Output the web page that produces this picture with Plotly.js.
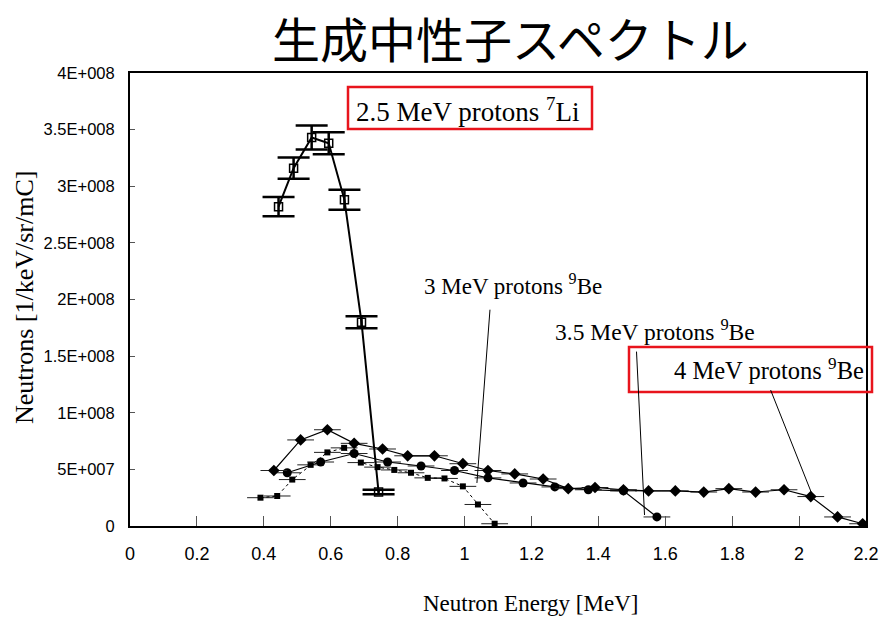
<!DOCTYPE html>
<html>
<head>
<meta charset="utf-8">
<script src="https://cdn.plot.ly/plotly-3.0.1.min.js"></script>
<style>html,body{margin:0;padding:0;background:#fff;}#chart{width:879px;height:618px;}</style>
</head>
<body>
<div id="chart"></div>
<script>
// 2.5 MeV protons on 7Li
const liEnergy = [0.444, 0.489, 0.543, 0.594, 0.641, 0.692, 0.743];
const liNeutrons = [2.82e8, 3.16e8, 3.43e8, 3.38e8, 2.88e8, 1.80e8, 0.30e8];
const liError = [8.4e6, 9.3e6, 1.06e7, 9.7e6, 8.8e6, 5.3e6, 2.0e6];

// 3 MeV protons on 9Be
const be3Energy = [0.39, 0.44, 0.485, 0.54, 0.59, 0.64, 0.69, 0.74, 0.79, 0.84, 0.89, 0.94, 0.995, 1.04, 1.09];
const be3Neutrons = [2.5e7, 2.65e7, 4.1e7, 5.4e7, 6.5e7, 6.9e7, 5.6e7, 5.2e7, 4.95e7, 4.7e7, 4.25e7, 4.2e7, 3.5e7, 1.9e7, 0.2e7];

// 3.5 MeV protons on 9Be
const be35Energy = [0.47, 0.57, 0.67, 0.77, 0.87, 0.97, 1.07, 1.175, 1.27, 1.37, 1.475, 1.575];
const be35Neutrons = [4.7e7, 5.65e7, 6.4e7, 5.65e7, 5.3e7, 4.9e7, 4.25e7, 3.8e7, 3.45e7, 3.2e7, 3.1e7, 0.8e7];

// 4 MeV protons on 9Be
const be4Energy = [0.43, 0.51, 0.59, 0.67, 0.755, 0.83, 0.91, 0.995, 1.07, 1.15, 1.235, 1.31, 1.39, 1.475, 1.55, 1.63, 1.715, 1.79, 1.87, 1.955, 2.035, 2.115, 2.19];
const be4Neutrons = [4.9e7, 7.6e7, 8.5e7, 7.3e7, 6.8e7, 6.2e7, 6.2e7, 5.5e7, 4.9e7, 4.6e7, 4.15e7, 3.3e7, 3.4e7, 3.2e7, 3.1e7, 3.1e7, 3.0e7, 3.3e7, 3.0e7, 3.2e7, 2.6e7, 0.8e7, 0.2e7];

const xTickVals = [0, 0.2, 0.4, 0.6, 0.8, 1, 1.2, 1.4, 1.6, 1.8, 2, 2.2];
const xTickText = ['0', '0.2', '0.4', '0.6', '0.8', '1', '1.2', '1.4', '1.6', '1.8', '2', '2.2'];
const yTickVals = [0, 5e7, 1e8, 1.5e8, 2e8, 2.5e8, 3e8, 3.5e8, 4e8];
const yTickText = ['0', '5E+007', '1E+008', '1.5E+008', '2E+008', '2.5E+008', '3E+008', '3.5E+008', '4E+008'];

const beErrX = {type: 'constant', value: 0.04, thickness: 1, width: 0, color: '#222'};

const traces = [
  {x: be3Energy, y: be3Neutrons, mode: 'lines+markers', type: 'scatter',
   line: {color: '#000', width: 1, dash: 'dot'},
   marker: {symbol: 'square', size: 6, color: '#000'}, error_x: beErrX},
  {x: be35Energy, y: be35Neutrons, mode: 'lines+markers', type: 'scatter',
   line: {color: '#000', width: 1.2},
   marker: {symbol: 'circle', size: 9, color: '#000'}, error_x: beErrX},
  {x: be4Energy, y: be4Neutrons, mode: 'lines+markers', type: 'scatter',
   line: {color: '#000', width: 1.2},
   marker: {symbol: 'diamond', size: 9, color: '#000'}, error_x: beErrX},
  {x: liEnergy, y: liNeutrons, mode: 'lines+markers', type: 'scatter',
   line: {color: '#000', width: 2},
   marker: {symbol: 'square-open', size: 8, color: '#000', line: {width: 1.5}},
   error_y: {type: 'data', array: liError, visible: true, thickness: 2.5, width: 16, color: '#000'}}
];

const serif = 'Liberation Serif';
const sans = 'Liberation Sans Narrow, Liberation Sans';
const layout = {
  width: 879, height: 618,
  margin: {l: 130, r: 13, t: 73, b: 92},
  paper_bgcolor: '#fff', plot_bgcolor: '#fff',
  showlegend: false,
  xaxis: {range: [0, 2.2], tickvals: xTickVals, ticktext: xTickText,
    showgrid: false, zeroline: false, showline: true, mirror: true, linecolor: '#000', linewidth: 2,
    ticks: 'inside', ticklen: 10, tickwidth: 1, tickcolor: '#555', ticklabelstandoff: 10,
    ticklabeloverflow: 'allow',
    tickfont: {family: sans, size: 18, color: '#000'}},
  yaxis: {range: [0, 4e8], tickvals: yTickVals, ticktext: yTickText,
    showgrid: false, zeroline: false, showline: true, mirror: true, linecolor: '#000', linewidth: 2,
    ticks: 'inside', ticklen: 5, tickwidth: 1, tickcolor: '#555', ticklabelstandoff: 10,
    tickfont: {family: sans, size: 16.5, color: '#000'}},
  shapes: [
    {type: 'rect', xref: 'paper', yref: 'paper', x0: (348-130)/736, x1: (592-130)/736,
     y0: (526-129)/453, y1: (526-87)/453, line: {color: '#e8141c', width: 2.5}},
    {type: 'rect', xref: 'paper', yref: 'paper', x0: (629-130)/736, x1: (872-130)/736,
     y0: (526-392)/453, y1: (526-347)/453, line: {color: '#e8141c', width: 2.5}},
    {type: 'line', xref: 'x', yref: 'y', x0: 1.076, y0: 1.91e8, x1: 1.037, y1: 3.8e7, line: {color: '#000', width: 1}},
    {type: 'line', xref: 'x', yref: 'y', x0: 1.514, y0: 1.54e8, x1: 1.538, y1: 0.97e7, line: {color: '#000', width: 1}},
    {type: 'line', xref: 'x', yref: 'y', x0: 1.915, y0: 1.2e8, x1: 2.04, y1: 2.7e7, line: {color: '#000', width: 1}}
  ],
  annotations: [
    {text: '生成中性子スペクトル', xref: 'paper', yref: 'paper', x: (510-130)/736, y: (526-37)/453,
     showarrow: false, xanchor: 'center', yanchor: 'middle',
     font: {family: 'Noto Sans CJK JP', size: 48, color: '#000'}},
    {text: 'Neutrons [1/keV/sr/mC]', xref: 'paper', yref: 'paper', x: (24-130)/736, y: (526-298)/453,
     showarrow: false, textangle: -90, xanchor: 'center', yanchor: 'middle',
     font: {family: serif, size: 26, color: '#000'}},
    {text: 'Neutron Energy [MeV]', xref: 'paper', yref: 'paper', x: (530-130)/736, y: (526-603)/453,
     showarrow: false, xanchor: 'center', yanchor: 'middle',
     font: {family: serif, size: 23, color: '#000'}},
    {text: '2.5 MeV protons <sup>7</sup>Li', xref: 'paper', yref: 'paper', x: (354-130)/736, y: (526-110)/453,
     showarrow: false, xanchor: 'left', yanchor: 'middle',
     font: {family: serif, size: 27, color: '#000'}},
    {text: '3 MeV protons <sup>9</sup>Be', xref: 'paper', yref: 'paper', x: (422-130)/736, y: (526-284)/453,
     showarrow: false, xanchor: 'left', yanchor: 'middle',
     font: {family: serif, size: 23, color: '#000'}},
    {text: '3.5 MeV protons <sup>9</sup>Be', xref: 'paper', yref: 'paper', x: (553-130)/736, y: (526-330)/453,
     showarrow: false, xanchor: 'left', yanchor: 'middle',
     font: {family: serif, size: 23.5, color: '#000'}},
    {text: '4 MeV protons <sup>9</sup>Be', xref: 'paper', yref: 'paper', x: (672-130)/736, y: (526-369)/453,
     showarrow: false, xanchor: 'left', yanchor: 'middle',
     font: {family: serif, size: 24.5, color: '#000'}}
  ]
};

Plotly.newPlot('chart', traces, layout, {displayModeBar: false, staticPlot: true});
</script>
</body>
</html>
